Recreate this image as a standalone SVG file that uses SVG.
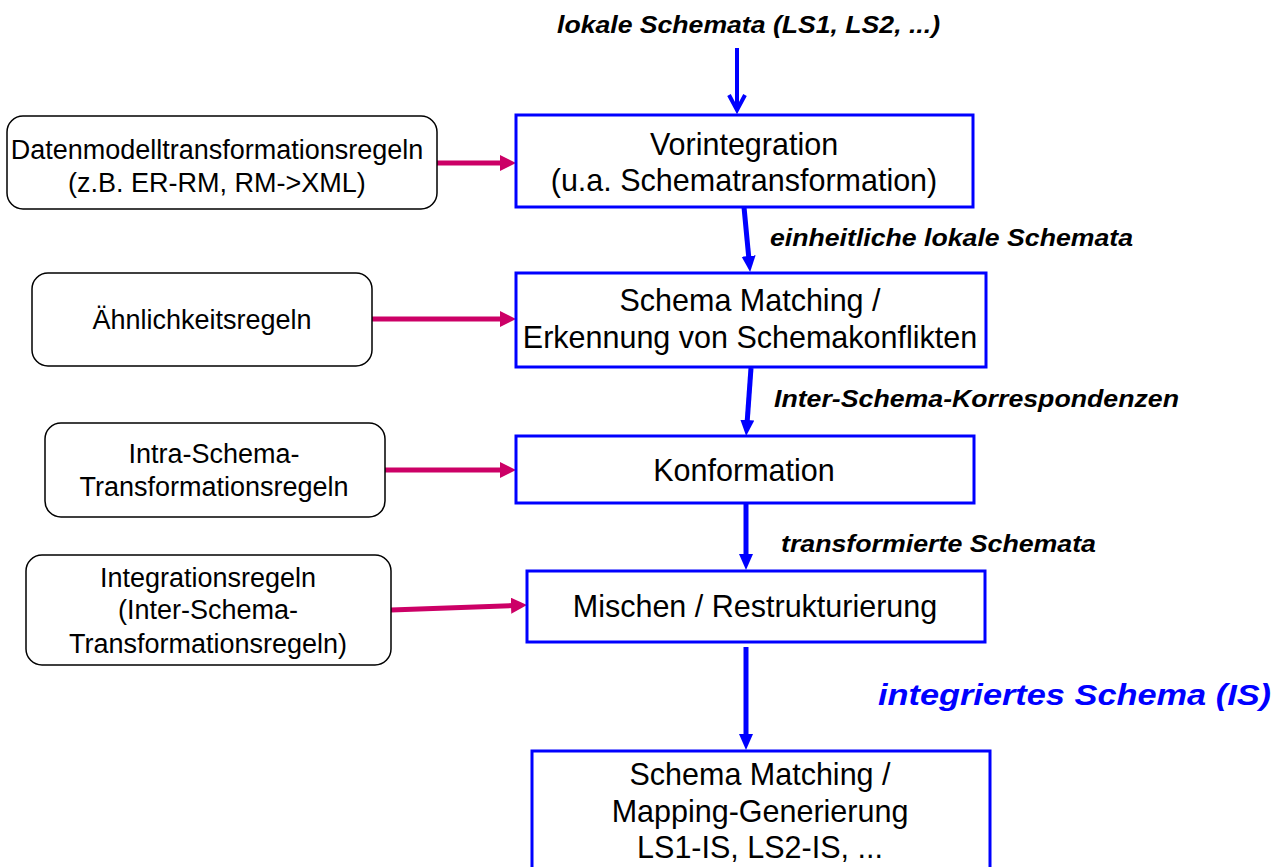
<svg xmlns="http://www.w3.org/2000/svg" width="1273" height="867" viewBox="0 0 1273 867">
<style>
.step{fill:#fff;stroke:#0000FF;stroke-width:3}
.rule{fill:#fff;stroke:#000;stroke-width:1.5}
.st{font-family:"Liberation Sans",Arial,sans-serif;font-size:30.5px;fill:#000;text-anchor:middle}
.rt{font-family:"Liberation Sans",Arial,sans-serif;font-size:27px;fill:#000;text-anchor:middle}
.lbl{font-family:"Liberation Sans",Arial,sans-serif;font-size:24px;font-weight:bold;font-style:italic;fill:#000}
.big{font-size:30px;fill:#0000FF}
.blue{stroke:#0000FF;stroke-width:5;fill:none}
.pink{stroke:#CC0066;stroke-width:5;fill:none}
</style>
<defs>
<marker id="hb" markerUnits="userSpaceOnUse" markerWidth="18" markerHeight="16" refX="4" refY="7" orient="auto"><path d="M0,0 L16,7 L0,14 z" fill="#0000FF"/></marker>
<marker id="hp" markerUnits="userSpaceOnUse" markerWidth="18" markerHeight="18" refX="4" refY="8" orient="auto"><path d="M0,0 L16,8 L0,16 z" fill="#CC0066"/></marker>
</defs>

<g id="connectors">
<line class="blue" x1="737" y1="48" x2="737" y2="110" style="stroke-width:4"/>
<polyline class="blue" points="729,95 737,110 745,95" style="stroke-width:4"/>
<line class="blue" x1="744" y1="207" x2="749" y2="260" marker-end="url(#hb)"/>
<line class="blue" x1="751" y1="368" x2="747" y2="424" marker-end="url(#hb)"/>
<line class="blue" x1="746" y1="503" x2="746" y2="558" marker-end="url(#hb)"/>
<line class="blue" x1="746" y1="647" x2="746" y2="738" marker-end="url(#hb)"/>
<line class="pink" x1="437" y1="163" x2="504" y2="163" marker-end="url(#hp)"/>
<line class="pink" x1="372" y1="319" x2="504" y2="319" marker-end="url(#hp)"/>
<line class="pink" x1="385" y1="470" x2="504" y2="470" marker-end="url(#hp)"/>
<line class="pink" x1="391" y1="610" x2="515" y2="605.5" marker-end="url(#hp)"/>
</g>

<g id="labels">
<text class="lbl" x="557" y="33" textLength="383" lengthAdjust="spacingAndGlyphs">lokale Schemata (LS1, LS2, ...)</text>
<text class="lbl" x="770" y="246" textLength="363" lengthAdjust="spacingAndGlyphs">einheitliche lokale Schemata</text>
<text class="lbl" x="774" y="407" textLength="405" lengthAdjust="spacingAndGlyphs">Inter-Schema-Korrespondenzen</text>
<text class="lbl" x="781" y="552" textLength="315" lengthAdjust="spacingAndGlyphs">transformierte Schemata</text>
<text class="lbl big" x="878" y="705" textLength="393" lengthAdjust="spacingAndGlyphs">integriertes Schema (IS)</text>
</g>

<g id="vorintegration">
<rect class="step" x="516" y="115" width="457" height="92"/>
<text class="st" x="744" y="155">Vorintegration</text>
<text class="st" x="744" y="191">(u.a. Schematransformation)</text>
</g>
<g id="schema-matching">
<rect class="step" x="516" y="273" width="470" height="94"/>
<text class="st" x="750" y="311">Schema Matching /</text>
<text class="st" x="750" y="348">Erkennung von Schemakonflikten</text>
</g>
<g id="konformation">
<rect class="step" x="516" y="436" width="458" height="67"/>
<text class="st" x="744" y="481">Konformation</text>
</g>
<g id="mischen">
<rect class="step" x="527" y="571" width="458" height="71"/>
<text class="st" x="755" y="617">Mischen / Restrukturierung</text>
</g>
<g id="mapping">
<rect class="step" x="532" y="751" width="458" height="130"/>
<text class="st" x="760" y="785">Schema Matching /</text>
<text class="st" x="760" y="822">Mapping-Generierung</text>
<text class="st" x="760" y="858">LS1-IS, LS2-IS, ...</text>
</g>

<g id="datenmodell-regeln">
<rect class="rule" x="7" y="116" width="430" height="93" rx="16"/>
<text class="rt" x="217" y="159">Datenmodelltransformationsregeln</text>
<text class="rt" x="217" y="192">(z.B. ER-RM, RM-&gt;XML)</text>
</g>
<g id="aehnlichkeitsregeln">
<rect class="rule" x="32" y="273" width="340" height="93" rx="16"/>
<text class="rt" x="202" y="329">Ähnlichkeitsregeln</text>
</g>
<g id="intra-schema-regeln">
<rect class="rule" x="45" y="423" width="340" height="94" rx="16"/>
<text class="rt" x="214" y="463">Intra-Schema-</text>
<text class="rt" x="214" y="496">Transformationsregeln</text>
</g>
<g id="integrationsregeln">
<rect class="rule" x="26" y="555" width="365" height="110" rx="16"/>
<text class="rt" x="208" y="587">Integrationsregeln</text>
<text class="rt" x="208" y="619">(Inter-Schema-</text>
<text class="rt" x="208" y="653">Transformationsregeln)</text>
</g>
</svg>
